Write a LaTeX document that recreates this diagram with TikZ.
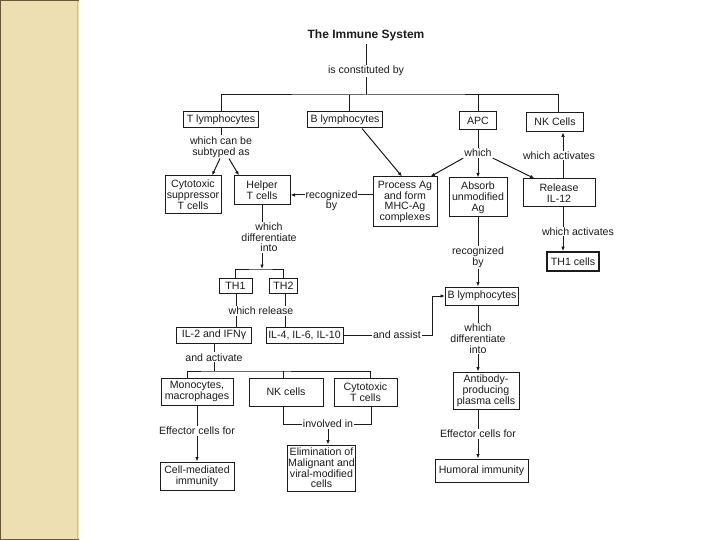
\documentclass[tikz,border=0pt]{standalone}
\usepackage{fontspec}
\setmainfont{Liberation Sans}
\usepackage{tikz}
\usetikzlibrary{arrows.meta}
\definecolor{parchment}{HTML}{EEDFB3}
\definecolor{parchedge}{HTML}{CDBB8A}
\definecolor{parchdark}{HTML}{6B5636}
\definecolor{ink}{HTML}{1C1C1C}
\newcommand{\cellfont}{\fontsize{10.6}{10.8}\selectfont}

\begin{document}
\begin{tikzpicture}[x=1pt,y=-1pt,
  cell/.style={draw=ink, line width=1pt, fill=white, font=\cellfont, text=ink, align=center, inner sep=1pt},
  heavy/.style={cell, line width=1.6pt},
  note/.style={font=\cellfont, text=ink, align=center, fill=white, inner sep=1pt},
  link/.style={ink, line width=1pt},
  arr/.style={link, -{Latex[length=4.5pt,width=3.5pt]}}]
  \useasboundingbox (0,0) rectangle (720,540);
  % side strip
  \fill[parchment] (0,0) rectangle (79,540);
  \draw[parchedge, line width=1.5pt] (77.5,0) -- (77.5,540);
  \draw[parchdark, line width=1.2pt] (0.6,0) -- (0.6,540) (0,0.6) -- (79,0.6) (0,539.4) -- (79,539.4);
  % top
  \node[font=\fontsize{12}{14}\selectfont\bfseries, text=ink] (title) at (366,35) {The Immune System};
  \node[note] (const) at (366,71) {is constituted by};
  \coordinate (topb) at (366,95);
  \node[cell, minimum width=75pt, minimum height=16pt] (T) at (221,120) {T lymphocytes};
  \node[cell, minimum width=75pt, minimum height=16pt] (B) at (345,120) {B lymphocytes};
  \node[cell, minimum width=37pt, minimum height=18pt] (APC) at (478,121) {APC};
  \node[heavy, minimum width=57pt, minimum height=19pt] (NK) at (555,122) {NK Cells};
  % T lymphocytes
  \node[note] (sub) at (221,147) {which can be\\subtyped as};
  \node[cell, minimum width=56pt, minimum height=38pt] (Cyt) at (193,195) {Cytotoxic\\suppressor\\T cells};
  \node[cell, minimum width=56pt, minimum height=29pt] (Help) at (262,190.5) {Helper\\T cells};
  \coordinate (thb) at (262,269);
  \node[cell, minimum width=33pt, minimum height=15pt] (TH1) at (235.5,285.5) {TH1};
  \node[cell, minimum width=28pt, minimum height=15pt] (TH2) at (283.5,285.5) {TH2};
  \node[cell, minimum width=75pt, minimum height=16pt] (IL2) at (214,335) {IL-2 and IFNγ};
  \node[cell, minimum width=77pt, minimum height=16pt] (IL4) at (304.5,335) {IL-4, IL-6, IL-10};
  \coordinate (actb) at (214,371);
  \node[cell, minimum width=72pt, minimum height=27pt] (Mono) at (197,391.5) {Monocytes,\\macrophages};
  \node[cell, minimum width=74pt, minimum height=28pt] (NK2) at (286,392) {NK cells};
  \node[cell, minimum width=63pt, minimum height=28pt] (CytT) at (365.5,392) {Cytotoxic\\T cells};
  \node[note] (inv) at (328,424) {involved in};
  \node[cell, minimum width=65pt, minimum height=46pt] (Elim) at (321.5,468) {Elimination of\\Malignant and\\viral-modified\\cells};
  \node[cell, minimum width=74pt, minimum height=28pt] (Cell) at (197,476) {Cell-mediated\\immunity};
  % APC and B lymphocytes
  \node[cell, minimum width=64pt, minimum height=50pt] (Proc) at (405,202) {Process Ag\\and form\\MHC-Ag\\complexes};
  \node[note] (which) at (478,153) {which};
  \node[cell, minimum width=58pt, minimum height=39pt] (Abs) at (478,197.5) {Absorb\\unmodified\\Ag};
  \node[cell, minimum width=72pt, minimum height=28pt] (Rel) at (559,193) {Release\\IL-12};
  \node[heavy, minimum width=52pt, minimum height=19pt] (TH1c) at (573,261.5) {TH1 cells};
  \node[cell, minimum width=73pt, minimum height=18pt] (B2) at (482,296) {B lymphocytes};
  \node[cell, minimum width=66pt, minimum height=37pt] (Anti) at (486,390.5) {Antibody-\\producing\\plasma cells};
  \node[cell, minimum width=93pt, minimum height=23pt] (Hum) at (481.5,470.5) {Humoral immunity};
  % links
  \draw[link] (title) -- (const);
  \draw[link] (const) -- (topb);
  \draw[link] (T.north) |- (topb) -| ([xshift=3pt]NK.north);
  \draw[link] ([xshift=4pt]B.north) -- ([xshift=4pt]B.north |- topb);
  \draw[link] (APC.north) -- (APC.north |- topb);
  \draw[link] (T) -- (sub);
  \draw[arr] ([xshift=-1pt]sub.south) -- ([xshift=19pt]Cyt.north);
  \draw[arr] ([xshift=8pt]sub.south) -- ([xshift=-23pt]Help.north);
  \draw[arr] (Help) -- node[note, xshift=7pt]{which\\differentiate\\into} (thb);
  \draw[link] (TH1.north) |- (thb) -| (TH2.north);
  \draw[link] ([xshift=1.5pt]TH2.south) -- ([xshift=1.5pt]TH2.south |- IL4.north);
  \draw[link] ([xshift=1pt]TH1.south) -- ([xshift=1pt]TH1.south |- IL2.north);
  \node[note] (rls) at (261,311) {which release};
  \draw[link] (IL2) -- node[note]{and activate} (actb);
  \draw[link] ([xshift=-10pt]Mono.north) |- (actb) -| ([xshift=4.5pt]CytT.north);
  \draw[link] ([xshift=-3pt]NK2.north) -- ([xshift=-3pt]NK2.north |- actb);
  \draw[link] ([xshift=-3pt]NK2.south) |- (inv) -| ([xshift=6pt]CytT.south);
  \draw[arr] (inv) -- (inv |- Elim.north);
  \draw[arr] (Mono) -- node[note, pos=0.45]{Effector cells for} (Cell);
  \draw[link] (APC) -- (which);
  \draw[arr] (which) -- (Abs);
  \draw[arr] (which.south west) -- ([xshift=-7pt]Proc.north east);
  \draw[arr] (which.south east) -- ([xshift=12pt]Rel.north west);
  \draw[arr] ([xshift=17pt]B.south) -- ([xshift=-3pt]Proc.north);
  \draw[arr] ([yshift=7pt]Proc.west) coordinate (rq) -- node[note, anchor=north, yshift=6pt]{recognized\\by} (rq -| Help.east);
  \draw[arr] ([xshift=4pt]Rel.north) -- node[note, xshift=-4pt]{which activates} ([xshift=4pt]Rel.north |- NK.south);
  \draw[arr] ([xshift=4pt]Rel.south) -- node[note, pos=0.55, xshift=15pt]{which activates} ([xshift=4pt]Rel.south |- TH1c.north);
  \draw[arr] (Abs) -- node[note, pos=0.58]{recognized\\by} (Abs |- B2.north);
  \draw[arr] (B2.south -| Abs.south) -- node[note]{which\\differentiate\\into} (Anti.north -| Abs.south);
  \draw[arr] (Anti.south -| Abs.south) -- node[note]{Effector cells for} (Hum.north -| Abs.south);
  \draw[arr] (IL4.east) -- node[note, pos=0.6]{and assist} ++(89,0) |- (B2.west);
\end{tikzpicture}
\end{document}
